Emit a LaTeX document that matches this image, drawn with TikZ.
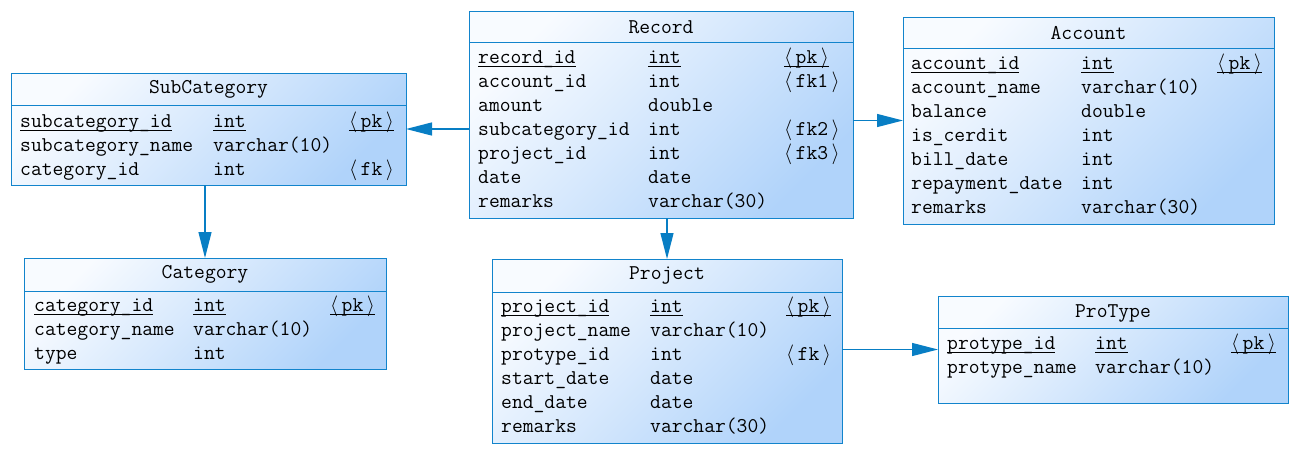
\documentclass[tikz,border=0pt]{standalone}
\usetikzlibrary{arrows.meta, positioning}

\definecolor{erblue}{RGB}{18,132,204}
\definecolor{erline}{RGB}{8,126,196}
\definecolor{erlight}{RGB}{248,251,255}
\definecolor{erdark}{RGB}{176,211,250}

\newcommand{\ul}[1]{\setbox0\hbox{#1}\rlap{\rule[-3.5pt]{\wd0}{0.9pt}}\box0}
\newcommand{\ky}[1]{$\langle\,$#1$\,\rangle$}
\newcommand{\pk}{\ul{\ky{pk}}}

\tikzset{
  tbl/.style={draw=erblue, line width=1pt, inner sep=0pt, outer sep=0pt, anchor=north west,
    top color=erlight, bottom color=erdark, shading angle=45},
  ttl/.style={font=\ttfamily\fontsize{21}{24}\selectfont, inner sep=0pt, yshift=-1pt},
  cell/.style={anchor=west, inner sep=0pt, text height=14pt, text depth=4pt, yshift=-1.5pt,
    font=\ttfamily\fontsize{21}{24}\selectfont},
  sep/.style={draw=erblue, line width=1pt},
  fk/.style={draw=erline, line width=1.3pt, -{Triangle[length=26pt, width=13pt]}}
}

\begin{document}
\begin{tikzpicture}[x=1pt, y=-1pt]
  \useasboundingbox (0,0) rectangle (1298,458);

  % SubCategory
  \node[tbl, minimum width=395pt, minimum height=112pt] (sub) at (11,73) {};
  \node[ttl] (sub-t) at ([yshift=-15pt]sub.north) {SubCategory};
  \draw[sep] ([yshift=-32pt]sub.north west) -- ([yshift=-32pt]sub.north east);
  \foreach \cname/\ctype/\ckey [count=\i from 0] in {
      {\ul{subcategory\_id}}/{\ul{int}}/{\pk},
      subcategory\_name/varchar(10)/{},
      category\_id/int/{\ky{fk}}} {
    \node[cell] (sub-n\i) at (20,{121+24*\i}) {\cname};
    \node[cell] (sub-y\i) at (213,{121+24*\i}) {\ctype};
    \node[cell] (sub-k\i) at (349,{121+24*\i}) {\ckey};
  }

  % Record
  \node[tbl, minimum width=384pt, minimum height=207pt] (rec) at (469,11) {};
  \node[ttl] (rec-t) at ([yshift=-15pt]rec.north) {Record};
  \draw[sep] ([yshift=-31pt]rec.north west) -- ([yshift=-31pt]rec.north east);
  \foreach \cname/\ctype/\ckey [count=\i from 0] in {
      {\ul{record\_id}}/{\ul{int}}/{\pk},
      account\_id/int/{\ky{fk1}},
      amount/double/{},
      subcategory\_id/int/{\ky{fk2}},
      project\_id/int/{\ky{fk3}},
      date/date/{},
      remarks/varchar(30)/{}} {
    \node[cell] (rec-n\i) at (478,{57+24*\i}) {\cname};
    \node[cell] (rec-y\i) at (648,{57+24*\i}) {\ctype};
    \node[cell] (rec-k\i) at (784,{57+24*\i}) {\ckey};
  }

  % Account
  \node[tbl, minimum width=371pt, minimum height=207pt] (acc) at (903,17) {};
  \node[ttl] (acc-t) at ([yshift=-15pt]acc.north) {Account};
  \draw[sep] ([yshift=-31pt]acc.north west) -- ([yshift=-31pt]acc.north east);
  \foreach \cname/\ctype/\ckey [count=\i from 0] in {
      {\ul{account\_id}}/{\ul{int}}/{\pk},
      account\_name/varchar(10)/{},
      balance/double/{},
      is\_cerdit/int/{},
      bill\_date/int/{},
      repayment\_date/int/{},
      remarks/varchar(30)/{}} {
    \node[cell] (acc-n\i) at (911,{63+24*\i}) {\cname};
    \node[cell] (acc-y\i) at (1081,{63+24*\i}) {\ctype};
    \node[cell] (acc-k\i) at (1217,{63+24*\i}) {\ckey};
  }

  % Category
  \node[tbl, minimum width=362pt, minimum height=111pt] (cat) at (24,258) {};
  \node[ttl] (cat-t) at ([yshift=-15pt]cat.north) {Category};
  \draw[sep] ([yshift=-33pt]cat.north west) -- ([yshift=-33pt]cat.north east);
  \foreach \cname/\ctype/\ckey [count=\i from 0] in {
      {\ul{category\_id}}/{\ul{int}}/{\pk},
      category\_name/varchar(10)/{},
      type/int/{}} {
    \node[cell] (cat-n\i) at (34,{305+24*\i}) {\cname};
    \node[cell] (cat-y\i) at (193,{305+24*\i}) {\ctype};
    \node[cell] (cat-k\i) at (330,{305+24*\i}) {\ckey};
  }

  % Project
  \node[tbl, minimum width=350pt, minimum height=184pt] (prj) at (492,259) {};
  \node[ttl] (prj-t) at ([yshift=-15pt]prj.north) {Project};
  \draw[sep] ([yshift=-33pt]prj.north west) -- ([yshift=-33pt]prj.north east);
  \foreach \cname/\ctype/\ckey [count=\i from 0] in {
      {\ul{project\_id}}/{\ul{int}}/{\pk},
      project\_name/varchar(10)/{},
      protype\_id/int/{\ky{fk}},
      start\_date/date/{},
      end\_date/date/{},
      remarks/varchar(30)/{}} {
    \node[cell] (prj-n\i) at (501,{306+24*\i}) {\cname};
    \node[cell] (prj-y\i) at (650,{306+24*\i}) {\ctype};
    \node[cell] (prj-k\i) at (786,{306+24*\i}) {\ckey};
  }

  % ProType
  \node[tbl, minimum width=350pt, minimum height=107pt] (pt) at (938,296) {};
  \node[ttl] (pt-t) at ([yshift=-16pt]pt.north) {ProType};
  \draw[sep] ([yshift=-32pt]pt.north west) -- ([yshift=-32pt]pt.north east);
  \foreach \cname/\ctype/\ckey [count=\i from 0] in {
      {\ul{protype\_id}}/{\ul{int}}/{\pk},
      protype\_name/varchar(10)/{}} {
    \node[cell] (pt-n\i) at (947,{343+24*\i}) {\cname};
    \node[cell] (pt-y\i) at (1095,{343+24*\i}) {\ctype};
    \node[cell] (pt-k\i) at (1231,{343+24*\i}) {\ckey};
  }

  % references
  \draw[fk] (sub.east -| rec.west) -- (sub.east);
  \draw[fk] (acc.west -| rec.east) -- (acc.west);
  \draw[fk] (cat.north |- sub.south) -- (cat.north);
  \draw[fk] (prj.north |- rec.south) -- (prj.north);
  \draw[fk] (pt.west -| prj.east) -- (pt.west);
\end{tikzpicture}
\end{document}
